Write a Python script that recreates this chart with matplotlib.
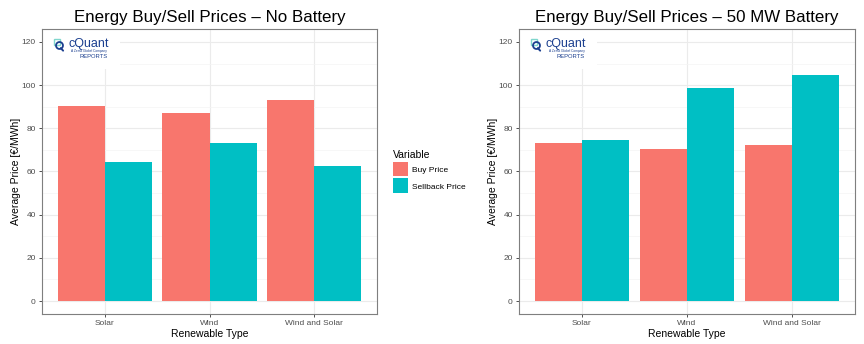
import matplotlib
matplotlib.use("Agg")
import matplotlib.pyplot as plt
import numpy as np
from matplotlib.patches import Rectangle

plt.rcParams['font.family'] = ['Liberation Sans', 'DejaVu Sans']

categories = ["Solar", "Wind", "Wind and Solar"]
series_names = ["Buy Price", "Sellback Price"]
no_battery_buy = [90.4, 87.1, 93.1]
no_battery_sell = [64.2, 73.2, 62.7]
battery_buy = [73.2, 70.4, 72.3]
battery_sell = [74.7, 98.8, 104.9]
titles = ["Energy Buy/Sell Prices \u2013 No Battery", "Energy Buy/Sell Prices \u2013 50 MW Battery"]
yticks = [0, 20, 40, 60, 80, 100, 120]

colors = ["#F8766D", "#00BFC4"]
W, H = 864, 344
fig = plt.figure(figsize=(W/100, H/100), dpi=100)

def add_logo(ax):
    # white box hiding the grid behind the logo
    ax.add_patch(Rectangle((0.0, 0.86), 0.233, 0.14, transform=ax.transAxes,
                           facecolor="white", edgecolor="none", zorder=3))
    ax.add_patch(Rectangle((0.036, 0.944), 0.018, 0.021, transform=ax.transAxes,
                           facecolor="none", edgecolor="#7fd6cc", lw=1.0, zorder=4))
    ax.plot([0.05], [0.943], transform=ax.transAxes, marker="o", ms=5,
            mfc="none", mec="#1b3f8f", mew=1.3, zorder=4, clip_on=False)
    ax.plot([0.056, 0.063], [0.933, 0.924], transform=ax.transAxes, color="#1b3f8f",
            lw=1.4, zorder=4, solid_capstyle="round")
    ax.text(0.078, 0.949, "cQuant", transform=ax.transAxes, fontsize=9,
            color="#1b3f8f", ha="left", va="center", zorder=5)
    ax.text(0.195, 0.922, "A Zema Global Company", transform=ax.transAxes, fontsize=2.3,
            color="#1b3f8f", ha="right", va="center", zorder=5)
    ax.text(0.195, 0.902, "REPORTS", transform=ax.transAxes, fontsize=4.2,
            color="#1b3f8f", ha="right", va="center", zorder=5)

def draw(ax, buy, sell, title):
    x = np.arange(1, len(categories) + 1)
    w = 0.45
    ax.bar(x - w/2, buy, width=w, color=colors[0], zorder=2, label=series_names[0])
    ax.bar(x + w/2, sell, width=w, color=colors[1], zorder=2, label=series_names[1])
    ax.set_xlim(0.4, 3.6)
    ax.set_ylim(-6, 126)
    ax.set_yticks(yticks)
    ax.set_yticks(np.arange(10, 121, 20), minor=True)
    ax.set_xticks(x)
    ax.set_xticklabels(categories)
    ax.grid(True, which="major", color="#EBEBEB", lw=0.8, zorder=0)
    ax.grid(True, which="minor", axis="y", color="#F4F4F4", lw=0.5, zorder=0)
    ax.set_axisbelow(True)
    for s in ax.spines.values():
        s.set_color("#7F7F7F")
        s.set_linewidth(0.8)
        s.set_zorder(10)
    ax.tick_params(axis="both", which="major", length=2.5, width=0.6, color="#333333",
                   labelsize=6, labelcolor="#4D4D4D", pad=2)
    ax.tick_params(axis="both", which="minor", length=0)
    ax.set_xlabel("Renewable Type", fontsize=7.5, labelpad=1)
    ax.set_ylabel("Average Price [\u20ac/MWh]", fontsize=7.5, labelpad=0.5)
    ax.set_title(title, fontsize=12.2, pad=5)
    add_logo(ax)

ax1 = fig.add_axes([42/W, 1 - 314/H, 335/W, 285/H])
ax2 = fig.add_axes([519/W, 1 - 314/H, 336/W, 285/H])
draw(ax1, no_battery_buy, no_battery_sell, titles[0])
draw(ax2, battery_buy, battery_sell, titles[1])

handles, labels = ax1.get_legend_handles_labels()
leg = fig.legend(handles, labels, title="Variable", loc="upper left",
                 bbox_to_anchor=(385/W, 1 - 142/H), frameon=False, fontsize=6,
                 title_fontsize=7.5, handlelength=1.85, handleheight=2.39,
                 handletextpad=0.55, labelspacing=0.24)
leg._legend_box.align = "left"

fig.savefig("out.png", dpi=100)
